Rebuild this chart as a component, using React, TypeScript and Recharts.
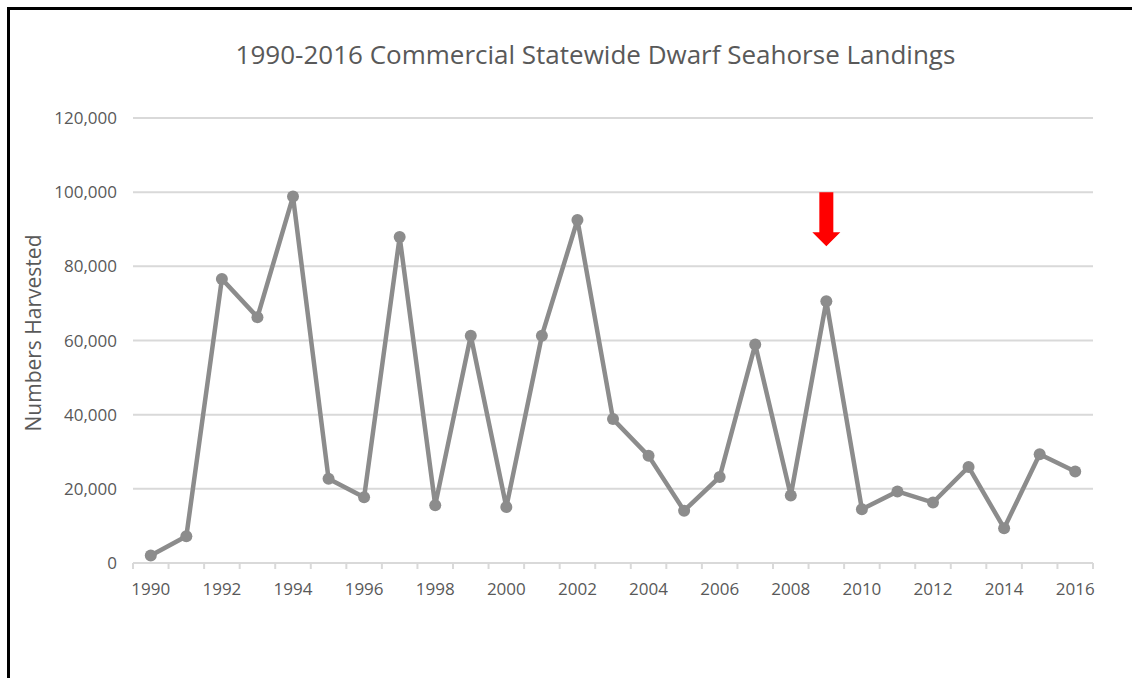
import { LineChart, Line, XAxis, YAxis, CartesianGrid, ReferenceDot } from "recharts";

// landings per year
const years = [
  1990, 1991, 1992, 1993, 1994, 1995, 1996, 1997, 1998, 1999, 2000, 2001, 2002, 2003,
  2004, 2005, 2006, 2007, 2008, 2009, 2010, 2011, 2012, 2013, 2014, 2015, 2016,
];
const harvested = [
  2000, 7200, 76600, 66300, 98800, 22700, 17700, 87900, 15600, 61300, 15100, 61300, 92500, 38800,
  28900, 14100, 23200, 58900, 18200, 70600, 14500, 19300, 16300, 25900, 9400, 29300, 24700,
];
const yTicks = [0, 20000, 40000, 60000, 80000, 100000, 120000];
// the red arrow marks the 2009 season
const arrowYear = 2009;
const arrowTop = 100000;

const data = years.map((year, i) => ({ year, harvested: harvested[i] }));

// boundary marks sit between categories, labels on every other year
const xTicks = [
  years[0] - 0.5,
  ...years.flatMap((y) => (y % 2 === 0 ? [y, y + 0.5] : [y + 0.5])),
];

const FONT = "'Open Sans', sans-serif";
const TEXT = "#595959";
const GRID = "#d9d9d9";
const LINE = "#8c8c8c";

function YearTick({ x, y, payload }: any) {
  const v = payload.value as number;
  if (!Number.isInteger(v)) {
    return <line x1={x} x2={x} y1={y} y2={y + 6} stroke={GRID} strokeWidth={2} />;
  }
  if (v % 2 !== 0) return <g />;
  return (
    <text x={x} y={y + 32} textAnchor="middle" fill={TEXT} fontSize={17} fontFamily={FONT}>
      {v}
    </text>
  );
}

function Arrow({ cx, cy }: any) {
  if (cx == null || cy == null) return <g />;
  const pts = [
    [cx - 7, cy],
    [cx + 7, cy],
    [cx + 7, cy + 40],
    [cx + 14, cy + 40],
    [cx, cy + 54],
    [cx - 14, cy + 40],
    [cx - 7, cy + 40],
  ]
    .map((p) => p.join(","))
    .join(" ");
  return <polygon points={pts} fill="#ff0000" />;
}

export default function App() {
  return (
    <div style={{ position: "absolute", left: 0, top: 0, width: 1132, height: 678, background: "#fff", overflow: "hidden" }}>
      <div
        style={{
          position: "absolute",
          left: 7,
          top: 7,
          width: 1125,
          height: 671,
          borderLeft: "3px solid #000",
          borderTop: "3px solid #000",
          boxSizing: "border-box",
        }}
      />
      <div
        style={{
          position: "absolute",
          left: 0,
          top: 36,
          width: 1191,
          textAlign: "center",
          fontFamily: FONT,
          fontSize: 26,
          color: TEXT,
          lineHeight: "36px",
        }}
      >
        1990-2016 Commercial Statewide Dwarf Seahorse Landings
      </div>
      <div
        style={{
          position: "absolute",
          left: 33,
          top: 333,
          transform: "translate(-50%, -50%) rotate(-90deg)",
          whiteSpace: "nowrap",
          fontFamily: FONT,
          fontSize: 21,
          color: TEXT,
        }}
      >
        Numbers Harvested
      </div>
      <div style={{ position: "absolute", left: 0, top: 0 }}>
        <LineChart width={1132} height={678} data={data} margin={{ top: 118, right: 39, bottom: 75, left: 0 }}>
          <CartesianGrid vertical={false} stroke={GRID} strokeWidth={2} />
          <XAxis
            dataKey="year"
            type="number"
            domain={[years[0] - 0.5, years[years.length - 1] + 0.5]}
            ticks={xTicks}
            interval={0}
            tickLine={false}
            tickSize={0}
            tickMargin={0}
            height={40}
            axisLine={{ stroke: GRID, strokeWidth: 2 }}
            tick={<YearTick />}
          />
          <YAxis
            width={133}
            domain={[0, 120000]}
            ticks={yTicks}
            axisLine={false}
            tickLine={false}
            tickMargin={10}
            tickFormatter={(v: number) => v.toLocaleString("en-US")}
            tick={{ fill: TEXT, fontSize: 17, fontFamily: FONT }}
          />
          <Line
            dataKey="harvested"
            stroke={LINE}
            strokeWidth={4.5}
            dot={{ r: 6, fill: LINE, stroke: LINE, strokeWidth: 0 }}
            isAnimationActive={false}
          />
          <ReferenceDot x={arrowYear} y={arrowTop} shape={<Arrow />} />
        </LineChart>
      </div>
    </div>
  );
}
